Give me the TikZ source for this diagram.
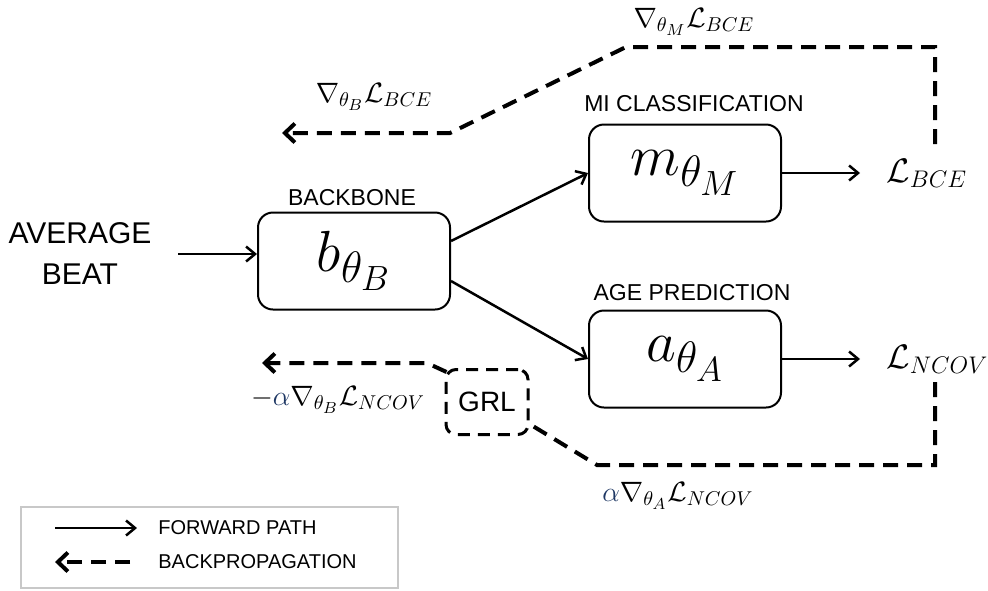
\documentclass[tikz,border=0pt]{standalone}
\usepackage{fix-cm}
\usepackage{fontspec}
\setmainfont{Liberation Sans}
\usetikzlibrary{arrows.meta}
\definecolor{alphablue}{RGB}{31,56,100}
\definecolor{legendgray}{RGB}{200,200,200}
\DeclareMathSizes{14}{14}{10}{8}
\DeclareMathSizes{17}{17}{12}{9.5}
\DeclareMathSizes{29}{29}{22}{17.5}
\begin{document}
\begin{tikzpicture}[x=0.5pt, y=-0.5pt,
    block/.style={draw, line width=1pt, rounded corners=7.5pt, inner sep=0pt,
      minimum width=96pt, minimum height=48.5pt, font=\fontsize{29}{31}\selectfont},
    caption/.style={font=\fontsize{11.5}{13}\selectfont},
    grad/.style={font=\fontsize{14}{16}\selectfont},
    loss/.style={anchor=west, inner xsep=13pt, font=\fontsize{17}{19}\selectfont},
    fwd/.style={-{Straight Barb[length=4.5pt, width=7.5pt]}, line width=1.25pt},
    backprop/.style={-{Straight Barb[length=5pt, width=9.5pt]}, line width=2pt,
      dash pattern=on 7.5pt off 4.5pt}]
  \useasboundingbox (0, 0) rectangle (988, 590);

  \node (input) at (80, 254) [align=center, font=\fontsize{15}{20.5}\selectfont] {AVERAGE\\BEAT};
  \node (backbone) at (354, 261) [block] {$b_{\theta_B}$};
  \node (mi) at (685, 173) [block] {$m_{\theta_M}$};
  \node (age) at (685, 359) [block] {$a_{\theta_A}$};
  \node (backbone name) at (352, 198) [caption] {BACKBONE};
  \node (mi name) at (694, 104) [caption] {MI CLASSIFICATION};
  \node (age name) at (692, 293) [caption] {AGE PREDICTION};
  \node (lbce) at (860, 173) [loss] {$\mathcal{L}_{BCE}$};
  \node (lncov) at (860, 359) [loss] {$\mathcal{L}_{NCOV}$};

  \draw [fwd] ([xshift=10pt]input.east) -- (input.east -| backbone.west);
  \draw [fwd] ([yshift=10pt]backbone.east) -- (mi.west);
  \draw [fwd] ([yshift=-10pt]backbone.east) -- (age.west);
  \draw [fwd] (mi) -- (lbce);
  \draw [fwd] (age) -- (lncov);

  \coordinate (bce out) at (935, 144);
  \coordinate (bce back) at (282, 133);
  \draw [backprop] (bce out) |- (626, 47) -- (450, 133) -- (bce back);
  \node (grad mb) at (694, 22) [grad] {$\nabla_{\theta_M}\mathcal{L}_{BCE}$};
  \node (grad bb) at (374, 97) [grad] {$\nabla_{\theta_B}\mathcal{L}_{BCE}$};

  \node (grl) at (487, 402) [draw, line width=1.5pt, dash pattern=on 6pt off 4pt,
    rounded corners=5pt, minimum width=41pt, minimum height=32.5pt,
    font=\fontsize{14}{16}\selectfont] {GRL};
  \coordinate (ncov out) at (935, 382);
  \coordinate (ncov back) at (262, 363);
  \draw [backprop, -] (ncov out) |- (597, 465) -- ([yshift=-11pt]grl.east);
  \draw [backprop] ([shift={(1pt, -2pt)}]grl.north west) -- (427, 363) -- (ncov back);
  \node (grad bn) at (338, 400) [grad] {$-\textcolor{alphablue}{\alpha}\nabla_{\theta_B}\mathcal{L}_{NCOV}$};
  \node (grad an) at (678, 496) [grad] {$\textcolor{alphablue}{\alpha}\nabla_{\theta_A}\mathcal{L}_{NCOV}$};

  \draw [legendgray, line width=1pt] (21, 507) rectangle (398, 588);
  \coordinate (fwd a) at (55, 528);
  \coordinate (fwd b) at (137, 528);
  \coordinate (bp a) at (130, 562);
  \coordinate (bp b) at (55, 562);
  \draw [fwd] (fwd a) -- (fwd b);
  \draw [backprop] (bp a) -- (bp b);
  \node (fwd text) at (158, 528) [anchor=west, inner sep=0pt, font=\fontsize{10}{12}\selectfont] {FORWARD PATH};
  \node (bp text) at (158, 562) [anchor=west, inner sep=0pt, font=\fontsize{10}{12}\selectfont] {BACKPROPAGATION};
\end{tikzpicture}
\end{document}
